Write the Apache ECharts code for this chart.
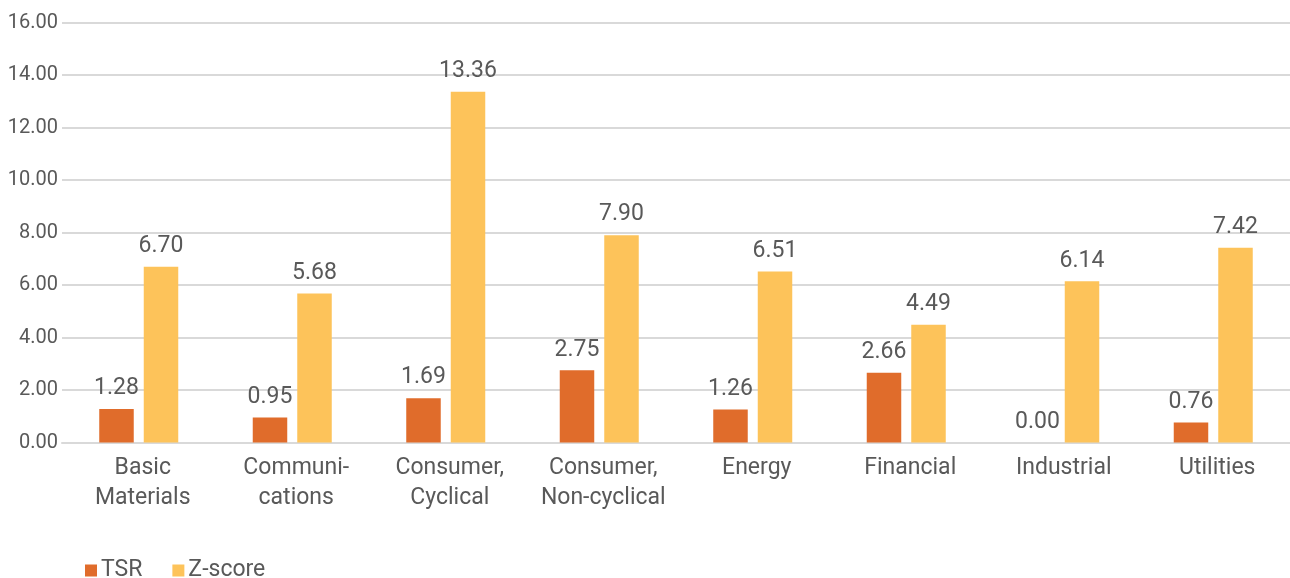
<!DOCTYPE html>
<html><head><meta charset="utf-8">
<script src="https://cdn.jsdelivr.net/npm/echarts@6/dist/echarts.min.js"></script>
<style>html,body{margin:0;padding:0;background:#fff}#c{width:1290px;height:578px}</style>
</head><body><div id="c"></div>
<script>
const categories = ['Basic\nMaterials','Communi-\ncations','Consumer,\nCyclical','Consumer,\nNon-cyclical','Energy','Financial','Industrial','Utilities'];
const tsr = [1.28, 0.95, 1.69, 2.75, 1.26, 2.66, 0.00, 0.76];
const zscore = [6.70, 5.68, 13.36, 7.90, 6.51, 4.49, 6.14, 7.42];
const seriesNames = ['TSR','Z-score'];
const font = 'Roboto, "DejaVu Sans", sans-serif';
const txt = '#595959';
const chart = echarts.init(document.getElementById('c'));
const lbl = {show:true, position:'top', distance:9, color:txt, fontSize:23, fontFamily:font, formatter:p=>p.value.toFixed(2)};
chart.setOption({
  animation:false,
  grid:{left:62, right:0, top:22.5, bottom:135.5, containLabel:false},
  legend:{left:80, top:554, itemWidth:12, itemHeight:12, itemGap:30, icon:'rect',
    textStyle:{color:txt, fontSize:23, fontFamily:font, padding:[0,0,0,-1]}, data:seriesNames},
  xAxis:{type:'category', data:categories, axisTick:{show:false},
    axisLine:{lineStyle:{color:'#d9d9d9', width:2}},
    axisLabel:{interval:0, color:txt, fontSize:23, fontFamily:font, lineHeight:30, margin:11, padding:[0,0,0,8]}},
  yAxis:{type:'value', min:0, max:16, interval:2,
    axisLabel:{color:txt, fontSize:20, fontFamily:font, margin:4, formatter:v=>v.toFixed(2)},
    splitLine:{lineStyle:{color:'#d9d9d9', width:2}}},
  series:[
    {name:seriesNames[0], type:'bar', data:tsr, barWidth:34.5, barGap:'29%', itemStyle:{color:'#E06C2B'}, label:lbl},
    {name:seriesNames[1], type:'bar', data:zscore, barWidth:34.5, itemStyle:{color:'#FDC35A'}, label:lbl}
  ]
});
</script></body></html>
